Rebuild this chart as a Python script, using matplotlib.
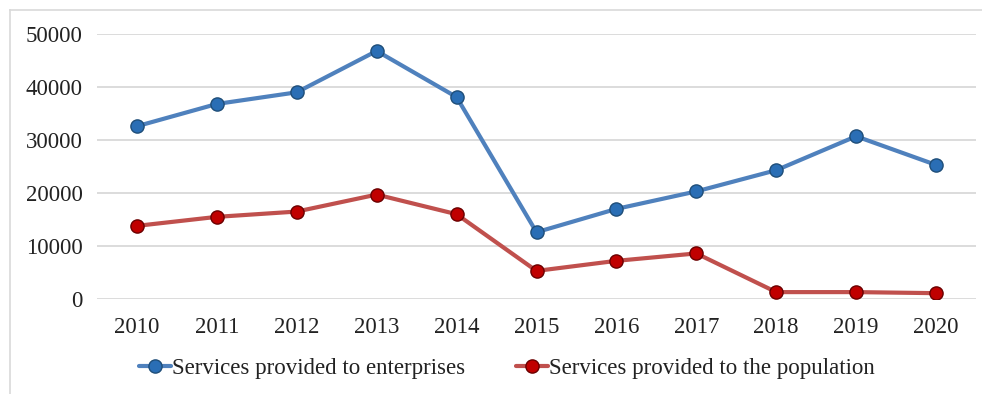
import matplotlib
matplotlib.use('Agg')
import matplotlib.pyplot as plt
from matplotlib.lines import Line2D
import numpy as np

years = ['2010', '2011', '2012', '2013', '2014', '2015', '2016', '2017', '2018', '2019', '2020']
enterprises = [32600, 36800, 39000, 46800, 38100, 12600, 17000, 20300, 24300, 30700, 25300]
population = [13800, 15500, 16500, 19700, 16000, 5300, 7200, 8600, 1300, 1300, 1100]
yticks = [0, 10000, 20000, 30000, 40000, 50000]

plt.rcParams['font.family'] = ['Liberation Serif', 'DejaVu Serif']

fig = plt.figure(figsize=(9.82, 3.94), dpi=100)
ax = fig.add_axes([97/982, 1 - 299/394, (976 - 97)/982, (299 - 34)/394])

x = np.arange(len(years))
ax.plot(x, enterprises, color='#4F81BD', lw=3, marker='o', ms=9.5,
        mfc='#2A6EB5', mec='#1F4E79', mew=1, solid_capstyle='round', zorder=3,
        label='Services provided to enterprises')
ax.plot(x, population, color='#C0504D', lw=3, marker='o', ms=9.5,
        mfc='#C00000', mec='#6B0000', mew=1, solid_capstyle='round', zorder=3,
        label='Services provided to the population')

ax.set_xlim(-0.5, len(years) - 0.5)
ax.set_ylim(0, 50000)
ax.set_xticks(x)
ax.set_xticklabels(years)
ax.set_yticks(yticks)
ax.set_yticklabels([str(v) for v in yticks])
ax.tick_params(length=0, labelsize=16.5, colors='#222222', pad=10.5)
ax.tick_params(axis='x', pad=13)
ax.grid(axis='y', color='#D9D9D9', lw=1.3)
ax.set_axisbelow(True)
for s in ax.spines.values():
    s.set_visible(False)

leg = fig.legend(loc='center', bbox_to_anchor=(507/982, 1 - 368/394), ncol=2, frameon=False,
                 fontsize=16.5, handlelength=1.4, columnspacing=2.2, handletextpad=0.05)
for t in leg.get_texts():
    t.set_color('#222222')

# outer frame (top and left only visible in the reference)
fig.add_artist(Line2D([10/982, 1], [1 - 10/394, 1 - 10/394], transform=fig.transFigure, color='#D9D9D9', lw=1.2))
fig.add_artist(Line2D([10/982, 10/982], [0, 1 - 10/394], transform=fig.transFigure, color='#D9D9D9', lw=1.2))

fig.savefig('out.png', dpi=100, facecolor='white')
